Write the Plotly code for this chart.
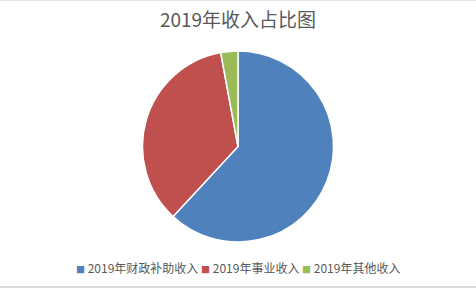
import plotly.graph_objects as go

labels = ["2019年财政补助收入", "2019年事业收入", "2019年其他收入"]
values = [61.9, 35.2, 2.9]
colors = ["#4F81BD", "#C0504D", "#9BBB59"]
title = "2019年收入占比图"

W, H = 476, 290
cx, cy, r = 238, 146.5, 95.5

fig = go.Figure(go.Pie(
    labels=labels, values=values, sort=False, direction="clockwise", rotation=0,
    marker=dict(colors=colors, line=dict(color="white", width=1.5)),
    textinfo="none", hoverinfo="none", showlegend=False,
    domain=dict(x=[(cx - r) / W, (cx + r) / W], y=[1 - (cy + r) / H, 1 - (cy - r) / H]),
))

legend_text = " ".join(
    f"<span style='color:{c};font-size:9px'>■</span> {lab}" for lab, c in zip(labels, colors)
)

fig.update_layout(
    width=W, height=H,
    margin=dict(l=0, r=0, t=0, b=0),
    paper_bgcolor="white", plot_bgcolor="white",
    font=dict(family="Noto Sans CJK SC, sans-serif", color="#595959"),
    title=dict(text=title, x=0.5, xanchor="center", y=1 - 20 / H, yanchor="middle",
               font=dict(size=19, color="#595959")),
    annotations=[dict(text=legend_text, xref="paper", yref="paper", x=0.5, xanchor="center",
                      y=1 - 267 / H, yanchor="middle", showarrow=False,
                      font=dict(size=12, color="#595959"))],
    shapes=[
        dict(type="line", xref="paper", yref="paper", x0=0, x1=1, y0=1 - 0.5 / H, y1=1 - 0.5 / H,
             line=dict(color="#e6e6e6", width=1)),
        dict(type="line", xref="paper", yref="paper", x0=0, x1=1, y0=1 - 287 / H, y1=1 - 287 / H,
             line=dict(color="#d9d9d9", width=2)),
    ],
)

fig.write_html("out.html")
